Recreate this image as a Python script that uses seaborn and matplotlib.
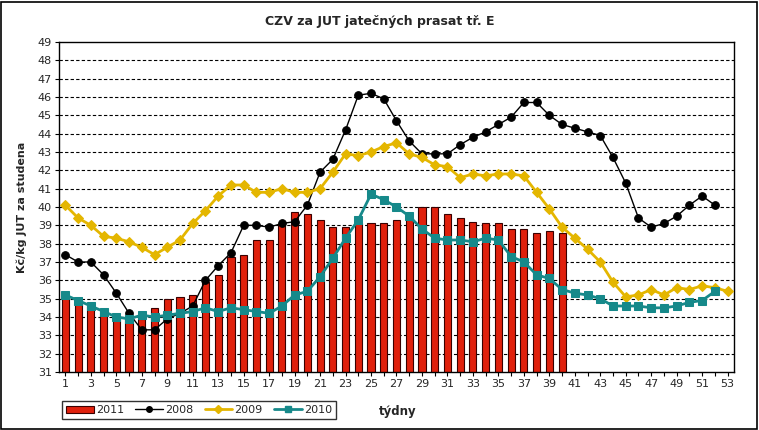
"""
CZV za JUT jatečných prasat tř. E -- weekly prices 2008-2011, Excel-style combo chart.
"""

import matplotlib
matplotlib.use("Agg")
import matplotlib.pyplot as plt
from matplotlib.lines import Line2D
from matplotlib.patches import Patch, Rectangle
import numpy as np
import pandas as pd
import seaborn as sns

# weekly values
weeks = list(range(1, 54))

price_2011 = [35.1, 34.8, 34.6, 34.3, 34.0, 34.0, 33.9, 34.5, 35.0, 35.1,
              35.2, 35.9, 36.3, 37.3, 37.4, 38.2, 38.2, 39.0, 39.7, 39.6,
              39.3, 38.9, 38.9, 39.1, 39.1, 39.1, 39.3, 39.4, 40.0, 40.0,
              39.6, 39.4, 39.2, 39.1, 39.1, 38.8, 38.8, 38.6, 38.7, 38.6]

price_2008 = [37.4, 37.0, 37.0, 36.3, 35.3, 34.2, 33.3, 33.3, 33.9, 34.2,
              34.6, 36.0, 36.8, 37.5, 39.0, 39.0, 38.9, 39.1, 39.2, 40.1,
              41.9, 42.6, 44.2, 46.1, 46.2, 45.9, 44.7, 43.6, 42.9, 42.9,
              42.9, 43.4, 43.8, 44.1, 44.5, 44.9, 45.7, 45.7, 45.0, 44.5,
              44.3, 44.1, 43.9, 42.7, 41.3, 39.4, 38.9, 39.1, 39.5, 40.1,
              40.6, 40.1]

price_2009 = [40.1, 39.4, 39.0, 38.4, 38.3, 38.1, 37.8, 37.4, 37.8, 38.2,
              39.1, 39.8, 40.6, 41.2, 41.2, 40.8, 40.8, 41.0, 40.8, 40.8,
              41.0, 41.9, 42.9, 42.8, 43.0, 43.3, 43.5, 42.9, 42.7, 42.3,
              42.2, 41.6, 41.8, 41.7, 41.8, 41.8, 41.7, 40.8, 39.9, 38.9,
              38.3, 37.7, 37.0, 35.9, 35.1, 35.2, 35.5, 35.2, 35.6, 35.5,
              35.7, 35.6, 35.4]

price_2010 = [35.2, 34.9, 34.6, 34.3, 34.0, 33.9, 34.1, 34.0, 34.1, 34.2,
              34.3, 34.5, 34.3, 34.5, 34.4, 34.3, 34.2, 34.6, 35.2, 35.4,
              36.2, 37.2, 38.3, 39.3, 40.7, 40.4, 40.0, 39.5, 38.8, 38.3,
              38.2, 38.2, 38.1, 38.3, 38.2, 37.3, 37.0, 36.3, 36.1, 35.5,
              35.3, 35.2, 35.0, 34.6, 34.6, 34.6, 34.5, 34.5, 34.6, 34.8,
              34.9, 35.4]

yticks = list(range(31, 50))

RED = "#E0200C"
BLACK = "#000000"
GOLD = "#E4B600"
TEAL = "#16898A"

sns.set_style("white")
plt.rcParams["font.family"] = ["DejaVu Sans"]

fig = plt.figure(figsize=(7.59, 4.30), dpi=100)
ax = fig.add_axes([59 / 759, 58 / 430, 675 / 759, 330 / 430])

df11 = pd.DataFrame({"week": weeks[:len(price_2011)], "price": price_2011})
sns.barplot(data=df11, x="week", y="price", native_scale=True, width=0.56,
            color=RED, edgecolor="#3a0000", linewidth=0.8, saturation=1,
            bottom=0, ax=ax, zorder=2)

series = [
    (price_2008, BLACK, "o", 5.5, 1.0),
    (price_2009, GOLD, "D", 5, 2.0),
    (price_2010, TEAL, "s", 5.5, 2.0),
]
for vals, col, mk, ms, lw in series:
    sns.lineplot(x=weeks[:len(vals)], y=vals, color=col, marker=mk,
                 markersize=ms, markeredgecolor=col, linewidth=lw,
                 ax=ax, zorder=3)

ax.set_ylim(31, 49)
ax.set_xlim(0.5, 53.5)
ax.set_yticks(yticks)
ax.set_yticklabels([str(t) for t in yticks], fontsize=8)
ax.set_xticks(weeks)
ax.set_xticklabels([str(w) if w % 2 == 1 else "" for w in weeks], fontsize=8)
ax.tick_params(axis="both", direction="out", length=3, width=0.8,
               color="black", pad=2, left=True, bottom=True)
ax.set_xlabel("")
ax.set_ylabel("")

for y in range(32, 49):
    ax.axhline(y, color="black", linestyle=(0, (3, 2)), linewidth=0.8, zorder=1)
for sp in ax.spines.values():
    sp.set_color("black")
    sp.set_linewidth(1.0)

fig.text(0.5, 1 - 22 / 430, "CZV za JUT jatečných prasat tř. E",
         ha="center", va="center", fontsize=9, fontweight="bold")
fig.text(22 / 759, 1 - 207 / 430, "Kč/kg JUT za studena", rotation=90,
         ha="center", va="center", fontsize=8, fontweight="bold")
fig.text(398 / 759, 1 - 411 / 430, "týdny",
         ha="center", va="center", fontsize=8.5, fontweight="bold")

handles = [
    Patch(facecolor=RED, edgecolor="#3a0000", linewidth=0.8, label="2011"),
    Line2D([], [], color=BLACK, marker="o", markersize=4, linewidth=1, label="2008"),
    Line2D([], [], color=GOLD, marker="D", markersize=4, linewidth=2, label="2009"),
    Line2D([], [], color=TEAL, marker="s", markersize=4, linewidth=2, label="2010"),
]
leg = fig.legend(handles=handles, ncol=4, loc="center",
                 bbox_to_anchor=(199 / 759, 1 - 410 / 430), fontsize=8,
                 frameon=True, fancybox=False, handlelength=2.5,
                 handletextpad=0.2, columnspacing=1.0, borderpad=0.35,
                 handleheight=0.6)
leg.get_frame().set_edgecolor("black")
leg.get_frame().set_linewidth(1.0)

fig.add_artist(Rectangle((1 / 759, 1 / 430), 756 / 759, 427 / 430,
                         transform=fig.transFigure, fill=False,
                         edgecolor="black", linewidth=1.2))

fig.savefig("out.png", dpi=100)
plt.close(fig)
